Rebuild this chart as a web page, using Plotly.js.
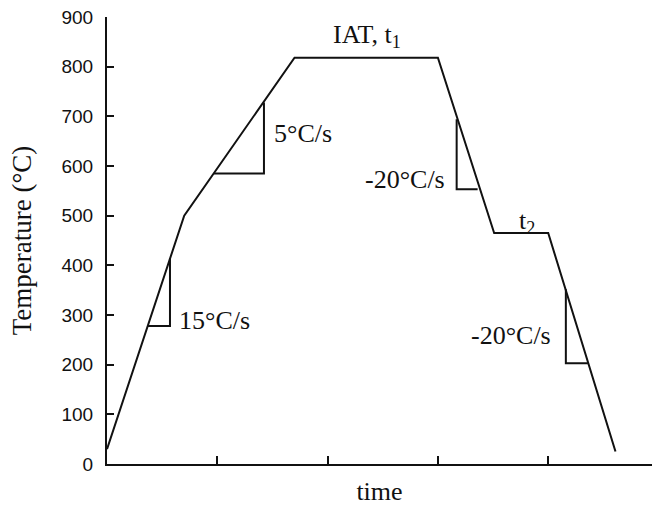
<!DOCTYPE html>
<html>
<head>
<meta charset="utf-8">
<script src="https://cdn.plot.ly/plotly-3.0.1.min.js"></script>
<style>html,body{margin:0;padding:0;background:#fff;}#chart{width:652px;height:506px;}</style>
</head>
<body>
<div id="chart"></div>
<script>
// Heat-treatment profile (time in arbitrary units, temperature in °C)
const profileTime = [0, 0.70, 1.70, 3.00, 3.51, 4.00, 4.61];
const profileTemp = [30, 500, 818, 818, 465, 465, 25];

// Slope triangles
const tri15Time = [0.372, 0.571, 0.571];
const tri15Temp = [278, 278, 415];
const tri5Time = [0.970, 1.423, 1.423];
const tri5Temp = [585, 585, 728];
const triC1Time = [3.17, 3.17, 3.36];
const triC1Temp = [694, 553, 553];
const triC2Time = [4.16, 4.16, 4.36];
const triC2Temp = [352, 203, 203];

// Labels
const labelText = ['IAT, t<sub>1</sub>', '5°C/s', '15°C/s', '-20°C/s', 't<sub>2</sub>', '-20°C/s'];
const labelTime = [2.36, 1.78, 0.975, 2.70, 3.81, 3.66];
const labelTemp = [862, 666, 288, 572, 488, 258];

const yTickVals = [0, 100, 200, 300, 400, 500, 600, 700, 800, 900];
const xTickVals = [1, 2, 3, 4];

const lineStyle = {color: '#111', width: 2};
function tr(x, y) {
  return {x: x, y: y, type: 'scatter', mode: 'lines', line: lineStyle, hoverinfo: 'skip', showlegend: false};
}
const data = [
  tr(profileTime, profileTemp),
  tr(tri15Time, tri15Temp),
  tr(tri5Time, tri5Temp),
  tr(triC1Time, triC1Temp),
  tr(triC2Time, triC2Temp)
];

const serifFamily = '"Liberation Serif", "Times New Roman", serif';
const annFont = {family: serifFamily, size: 26, color: '#111'};
const annotations = labelText.map((t, i) => ({
  x: labelTime[i], y: labelTemp[i], xref: 'x', yref: 'y', text: t,
  showarrow: false, font: annFont, xanchor: 'center', yanchor: 'middle'
}));

const layout = {
  width: 652, height: 506,
  margin: {l: 107, r: 0, t: 17, b: 42, pad: 0},
  paper_bgcolor: '#fff', plot_bgcolor: '#fff',
  showlegend: false,
  xaxis: {
    range: [0, 4.941], showgrid: false, zeroline: false,
    showline: true, linecolor: '#111', linewidth: 2,
    tickmode: 'array', tickvals: xTickVals, showticklabels: false,
    ticks: 'inside', ticklen: 8, tickwidth: 2, tickcolor: '#111',
    title: {text: 'time', font: {family: serifFamily, size: 26, color: '#111'}, standoff: 17},
    automargin: false
  },
  yaxis: {
    range: [0, 900], showgrid: false, zeroline: false,
    showline: true, linecolor: '#111', linewidth: 2,
    tickmode: 'array', tickvals: yTickVals,
    ticks: 'inside', ticklen: 7, tickwidth: 2, tickcolor: '#111',
    ticklabelstandoff: 8,
    tickfont: {family: '"Liberation Sans", Arial, sans-serif', size: 19, color: '#111'},
    title: {text: 'Temperature (°C)', font: {family: serifFamily, size: 27, color: '#111'}, standoff: 22},
    automargin: false
  },
  annotations: annotations
};

Plotly.newPlot('chart', data, layout, {displayModeBar: false, staticPlot: true});
</script>
</body>
</html>
